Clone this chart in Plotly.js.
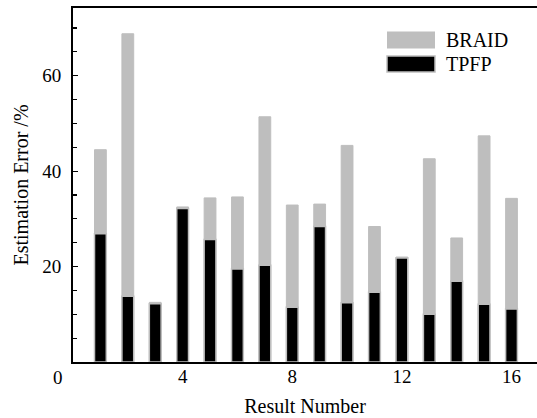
<!DOCTYPE html>
<html>
<head>
<meta charset="utf-8">
<script src="https://cdn.plot.ly/plotly-3.0.1.min.js"></script>
<style>html,body{margin:0;padding:0;background:#fff;}#chart{width:537px;height:418px;}</style>
</head>
<body>
<div id="chart"></div>
<script>
var resultNumbers = [1,2,3,4,5,6,7,8,9,10,11,12,13,14,15,16];
var braidError = [44.5,68.8,12.5,32.5,34.4,34.6,51.4,32.9,33.1,45.4,28.4,22.0,42.6,26.0,47.4,34.3];
var tpfpError  = [26.9,13.8,12.2,32.2,25.7,19.5,20.3,11.5,28.4,12.4,14.6,21.8,10.0,16.9,12.1,11.1];
var seriesNames = ["BRAID","TPFP"];
var xTickVals = [4,8,12,16];
var yTickVals = [20,40,60];

var FONT = "'Liberation Serif', 'DejaVu Serif', serif";
var GRAY = "#bebebe";

var traces = [
  {type:"bar", name:seriesNames[0], x:resultNumbers, y:braidError, width:0.43,
   marker:{color:GRAY, line:{color:GRAY, width:1}}, showlegend:false},
  {type:"bar", name:seriesNames[1], x:resultNumbers, y:tpfpError, width:0.43,
   marker:{color:"#000000", line:{color:GRAY, width:1.5}}, showlegend:false}
];

var layout = {
  width:537, height:418,
  margin:{l:73, r:0, t:8, b:55.5},
  paper_bgcolor:"#fff", plot_bgcolor:"#fff",
  font:{family:FONT, size:19, color:"#000"},
  barmode:"overlay",
  xaxis:{range:[0,16.93], tickvals:xTickVals, ticks:"", showline:true, linecolor:"#000000", linewidth:2,
         mirror:true, showgrid:false, zeroline:false, ticklabelstandoff:-4,
         tickfont:{family:FONT, size:19, color:"#000"},
         title:{text:"Result Number", font:{family:FONT, size:20, color:"#000"}, standoff:13}},
  yaxis:{range:[0,74.2], tickvals:yTickVals, ticks:"inside", ticklen:5, tickwidth:1.2, tickcolor:"#000000",
         minor:{dtick:5, ticks:"inside", ticklen:4, tickwidth:1.2, tickcolor:"#000000"},
         showline:true, linecolor:"#000000", linewidth:2, showgrid:false, zeroline:false,
         ticklabelstandoff:6,
         tickfont:{family:FONT, size:19, color:"#000"},
         title:{text:"Estimation Error /%", font:{family:FONT, size:20, color:"#000"}, standoff:8}},
  shapes:[
    {type:"rect", xref:"paper", yref:"paper", x0:(387-73)/464, x1:(435-73)/464,
     y0:(362.5-48.5)/354.5, y1:(362.5-31.5)/354.5, fillcolor:GRAY, line:{width:0}},
    {type:"rect", xref:"paper", yref:"paper", x0:(387-73)/464, x1:(435-73)/464,
     y0:(362.5-72)/354.5, y1:(362.5-56)/354.5, fillcolor:"#000", line:{color:GRAY, width:1.5}}
  ],
  annotations:[
    {xref:"paper", yref:"paper", x:(444-73)/464, y:(362.5-40.5)/354.5, xanchor:"left", yanchor:"middle",
     text:seriesNames[0], showarrow:false, font:{family:FONT, size:20, color:"#000"}},
    {xref:"paper", yref:"paper", x:(444-73)/464, y:(362.5-64)/354.5, xanchor:"left", yanchor:"middle",
     text:seriesNames[1], showarrow:false, font:{family:FONT, size:20, color:"#000"}},
    {xref:"paper", yref:"paper", x:(65-73)/464, y:(362.5-378)/354.5, xanchor:"right", yanchor:"middle",
     text:"0", showarrow:false, font:{family:FONT, size:19, color:"#000"}}
  ]
};

Plotly.newPlot("chart", traces, layout, {staticPlot:true, displayModeBar:false});
</script>
</body>
</html>
